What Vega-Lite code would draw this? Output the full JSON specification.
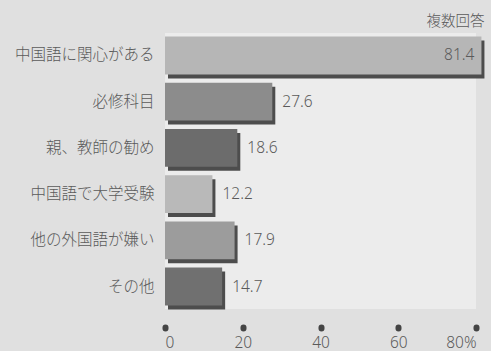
{
  "$schema": "https://vega.github.io/schema/vega-lite/v6.json",
  "autosize": "none",
  "width": 311,
  "height": 276,
  "padding": {"left": 165, "top": 33, "right": 15, "bottom": 42},
  "background": "#e0e0e0",
  "config": {
    "view": {"fill": "#ececec", "stroke": null},
    "font": "Noto Sans CJK JP"
  },
  "title": {
    "text": "複数回答",
    "anchor": "end",
    "fontSize": 14.5,
    "fontWeight": 300,
    "color": "#5a5a5a",
    "offset": 4,
    "font": "Noto Sans CJK JP"
  },
  "data": {
    "values": [
      {"reason": "中国語に関心がある", "pct": 81.4},
      {"reason": "必修科目", "pct": 27.6},
      {"reason": "親、教師の勧め", "pct": 18.6},
      {"reason": "中国語で大学受験", "pct": 12.2},
      {"reason": "他の外国語が嫌い", "pct": 17.9},
      {"reason": "その他", "pct": 14.7}
    ]
  },
  "encoding": {
    "y": {
      "field": "reason",
      "type": "nominal",
      "sort": null,
      "scale": {"paddingInner": 0.18, "paddingOuter": 0.075},
      "axis": {
        "title": null,
        "domain": false,
        "ticks": false,
        "labelPadding": 11,
        "labelFontSize": 15.5,
        "labelFontWeight": 300,
        "labelColor": "#5a5a5a",
        "labelFont": "Noto Sans CJK JP"
      }
    },
    "x": {
      "field": "pct",
      "type": "quantitative",
      "scale": {"domain": [0, 80], "nice": false},
      "axis": {
        "title": null,
        "values": [0, 20, 40, 60, 80],
        "labelExpr": "datum.value == 80 ? '80%' : datum.label",
        "domain": false,
        "grid": false,
        "offset": 18,
        "tickSize": 1,
        "tickWidth": 6,
        "tickCap": "round",
        "tickColor": "#444444",
        "labelPadding": 7,
        "labelFontSize": 15.5,
        "labelFontWeight": 300,
        "labelColor": "#5a5a5a",
        "labelFont": "Noto Sans"
      }
    }
  },
  "layer": [
    {
      "mark": {"type": "bar", "color": "#4d4d4d", "xOffset": 3, "yOffset": 4, "clip": false}
    },
    {
      "mark": {"type": "bar", "clip": false},
      "encoding": {
        "color": {
          "field": "reason",
          "type": "nominal",
          "legend": null,
          "scale": {
            "domain": ["中国語に関心がある", "必修科目", "親、教師の勧め", "中国語で大学受験", "他の外国語が嫌い", "その他"],
            "range": ["#b6b6b6", "#8c8c8c", "#6c6c6c", "#b9b9b9", "#9c9c9c", "#707070"]
          }
        }
      }
    },
    {
      "transform": [{"filter": "datum.pct < 50"}],
      "mark": {"type": "text", "align": "left", "dx": 10, "fontSize": 15.5, "fontWeight": 300, "color": "#5a5a5a", "font": "Noto Sans"},
      "encoding": {"text": {"field": "pct", "type": "quantitative", "format": ".1f"}}
    },
    {
      "transform": [{"filter": "datum.pct >= 50"}],
      "mark": {"type": "text", "align": "right", "dx": -7, "fontSize": 15.5, "fontWeight": 300, "color": "#5a5a5a", "font": "Noto Sans"},
      "encoding": {"text": {"field": "pct", "type": "quantitative", "format": ".1f"}}
    }
  ]
}
